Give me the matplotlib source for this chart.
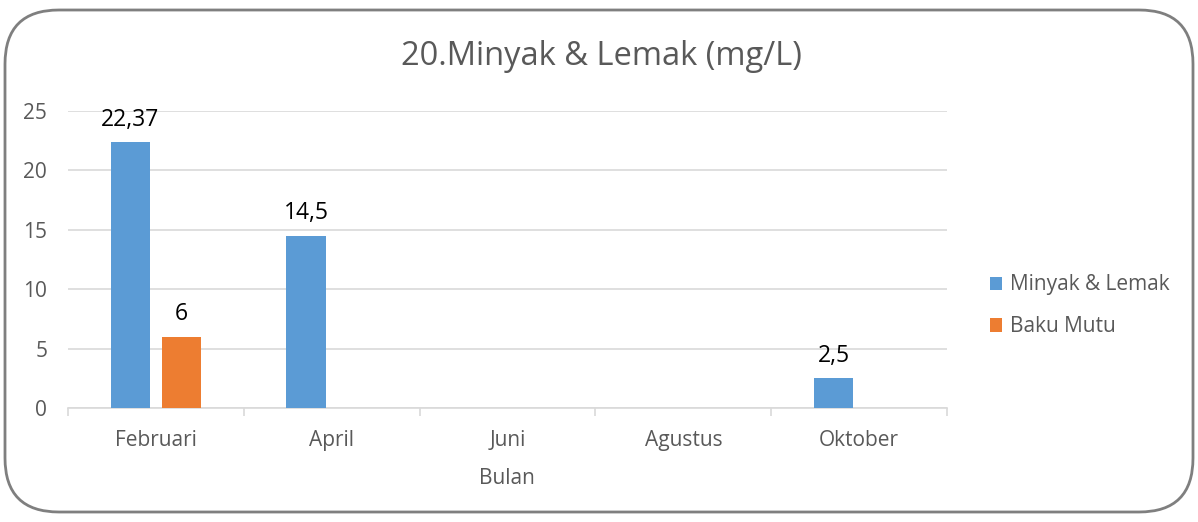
import numpy as np
import matplotlib.pyplot as plt
from matplotlib.patches import FancyBboxPatch, Patch

plt.rcParams['font.family'] = ['Open Sans', 'DejaVu Sans']

bulan = ["Februari", "April", "Juni", "Agustus", "Oktober"]
minyak_lemak = [22.37, 14.5, np.nan, np.nan, 2.5]
baku_mutu = [6, np.nan, np.nan, np.nan, np.nan]
series_names = ["Minyak & Lemak", "Baku Mutu"]

blue = '#5b9bd5'
orange = '#ed7d31'
grid_c = '#d9d9d9'
text_c = '#595959'

fig = plt.figure(figsize=(11.98, 5.22), dpi=100)
ax = fig.add_axes([0.0568, 0.2184, 0.7337, 0.569])

# rounded chart border
border = FancyBboxPatch((5/1198, 10/522), 1188/1198, 502/522,
                        boxstyle="round,pad=0,rounding_size=0.045",
                        transform=fig.transFigure, fill=False,
                        edgecolor='#7f7f7f', linewidth=2, mutation_aspect=1198/522)
fig.patches.append(border)

x = np.arange(len(bulan))
w = 0.225
off = 0.145
b1 = ax.bar(x - off, minyak_lemak, w, color=blue, zorder=3)
b2 = ax.bar(x + off, baku_mutu, w, color=orange, zorder=3)

for bars, vals in [(b1, minyak_lemak), (b2, baku_mutu)]:
    for rect, v in zip(bars, vals):
        if np.isnan(v):
            continue
        ax.text(rect.get_x() + rect.get_width()/2, v + 0.9,
                f"{v:g}".replace('.', ','), ha='center', va='bottom',
                fontsize=16.5, color='black', zorder=4)

ax.set_xlim(-0.5, len(bulan) - 0.5)
ax.set_ylim(0, 25)
ax.set_yticks(range(0, 26, 5))
ax.yaxis.grid(True, color=grid_c, linewidth=1.2, zorder=0)
ax.set_axisbelow(True)
for s in ['top', 'right', 'left']:
    ax.spines[s].set_visible(False)
ax.spines['bottom'].set_color(grid_c)
ax.spines['bottom'].set_linewidth(1.2)
ax.tick_params(axis='y', length=0, labelsize=15, labelcolor=text_c, pad=15)
ax.set_xticks(x)
ax.set_xticklabels(bulan)
ax.tick_params(axis='x', length=0, labelsize=15, labelcolor=text_c, pad=16)
ax.set_xticks(np.arange(-0.5, len(bulan)), minor=True)
ax.tick_params(axis='x', which='minor', length=6, color=grid_c, width=1.2)

fig.text(0.4235, 0.084, "Bulan", ha='center', va='center', fontsize=15, color=text_c)
fig.text(0.502, 0.891, "20.Minyak & Lemak (mg/L)", ha='center', va='center',
         fontsize=23.5, color=text_c)

handles = [Patch(facecolor=blue), Patch(facecolor=orange)]
fig.legend(handles, series_names, loc='center left', bbox_to_anchor=(0.826, 0.414),
           frameon=False, fontsize=15, labelcolor=text_c, handlelength=0.6,
           handleheight=0.6, handletextpad=0.4, labelspacing=1.0, borderaxespad=0,
           borderpad=0)

fig.savefig("out.png", dpi=100)
